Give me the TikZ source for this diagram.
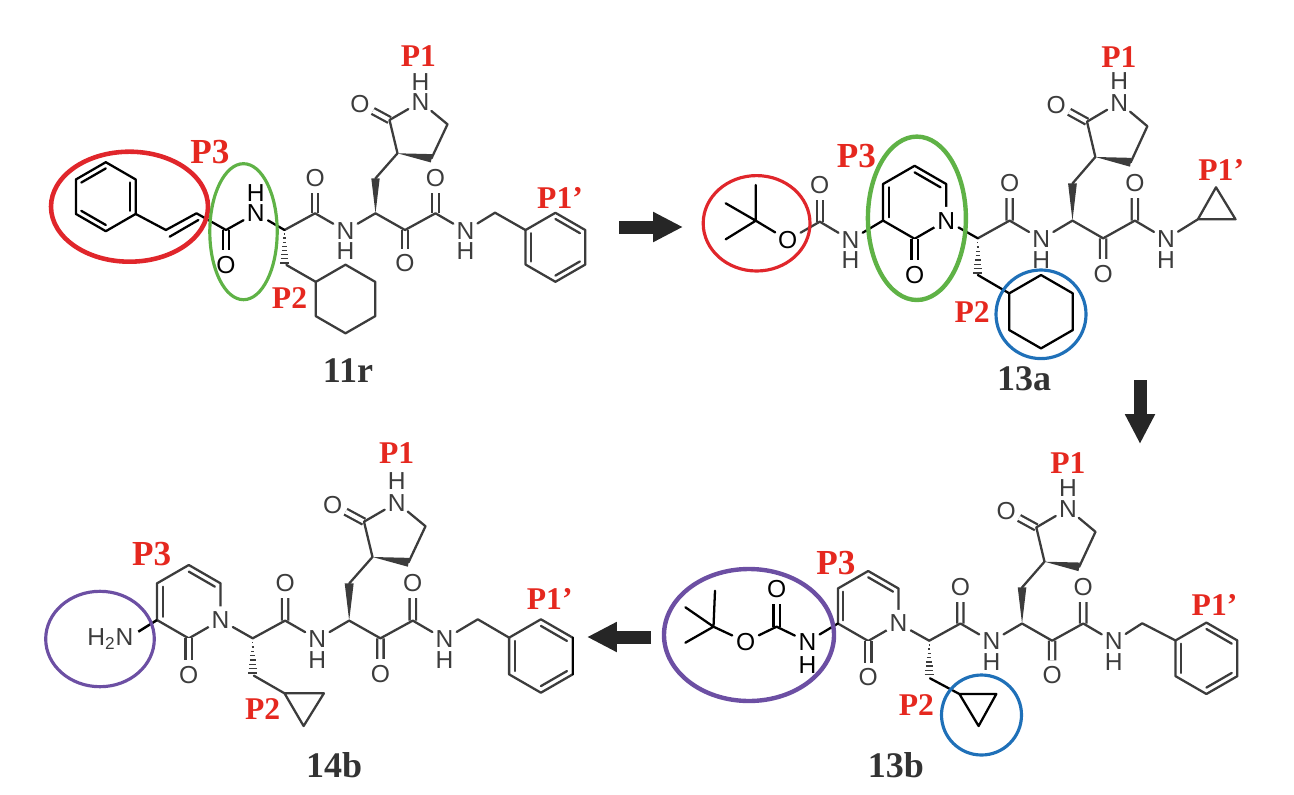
\documentclass[tikz,border=0pt]{standalone}
\usepackage{fontspec}
\setmainfont{Liberation Serif}
\newfontfamily\atomfont{Liberation Sans}
\usetikzlibrary{calc}
\usetikzlibrary{arrows.meta}

\definecolor{siteRed}{HTML}{E5281F}
\definecolor{ringRed}{HTML}{E0262B}
\definecolor{ringGreen}{HTML}{5FB246}
\definecolor{ringBlue}{HTML}{1F70B8}
\definecolor{ringPurple}{HTML}{6C4FA3}
\definecolor{bondGray}{HTML}{3C3C3C}

\tikzset{
    bond/.style={line width=1.3pt, line cap=round, line join=round, draw=bondGray},
    dbond/.style={bond, double=white, double distance=2.3pt, line cap=butt},
    atom/.style={circle, inner sep=0.6pt, font=\atomfont\fontsize{14}{14}\selectfont, text=bondGray},
    site/.style={inner sep=0pt, text=siteRed, font=\bfseries\fontsize{18}{18}\selectfont},
    sitebig/.style={inner sep=0pt, text=siteRed, font=\bfseries\fontsize{20}{20}\selectfont},
    cpd/.style={inner sep=0pt, text=black!80, font=\bfseries\fontsize{20.5}{20.5}\selectfont},
    hoopthin/.style={line width=1.8pt},
    hoopthick/.style={line width=2.5pt},
    bigarrow/.style={line width=7.4pt, draw=black!85, -{Triangle[length=17pt,width=16pt]}},
}

% ring with its corners (name0) ... (name5), (name0) on top
\newcommand{\hexring}[4]{
    \coordinate (#1c) at (#2);
    \foreach \k in {0,...,5} {
        \pgfmathsetmacro\ang{60*\k-90}
        \coordinate (#1\k) at ($(#1c)+(\ang:#3)$);
    }
    \draw[bond,#4] (#10) -- (#11) -- (#12) -- (#13) -- (#14) -- (#15) -- cycle;
}
\newcommand{\innerbond}[4]{
    \draw[bond,#4] ($(#1)!0.18!(#3)$) -- ($(#2)!0.18!(#3)$);
}
\newcommand{\wedgebond}[3]{
    \fill[#3] (#1) -- ($(#2)!2.4pt!90:(#1)$) -- ($(#2)!2.4pt!-90:(#1)$) -- cycle;
}

% the part all four molecules share, drawn from the chiral carbon (ca)
\newcommand{\peptidecore}{
    \coordinate (ca) at (0,0);
    \coordinate (c1) at (30.6,-16.7);
    \coordinate (cb) at (91,-16.7);
    \coordinate (cm) at (91,-51.7);
    \coordinate (c3) at (113,-76.7);
    \coordinate (c2) at (105,-110);
    \coordinate (c5) at (163,-105.7);
    \coordinate (c4) at (147,-71.7);
    \coordinate (ck) at (120.5,0);
    \coordinate (c6) at (151,-16.7);
    \node[atom] (o1) at (30.6,-51.7) {O};
    \node[atom] (n1) at (61,0.8) {N};
    \node[atom] (h1) at (61,20.8) {H};
    \node[atom] (o2) at (75.4,-126) {O};
    \node[atom] (nr) at (136,-128) {N};
    \node[atom] (hr) at (136,-148) {H};
    \node[atom] (o3) at (120.5,33.3) {O};
    \node[atom] (o4) at (151,-51.7) {O};
    \node[atom] (n2) at (181,0.8) {N};
    \node[atom] (h2) at (181,20.8) {H};
    % Carbonyls
    \draw[dbond] (c1) -- (o1);
    \draw[dbond] (c2) -- (o2);
    \draw[dbond] (ck) -- (o3);
    \draw[dbond] (c6) -- (o4);
    % Backbone and lactam
    \draw[bond] (ca) -- (c1) -- (n1);
    \draw[bond] (n1) -- (cb) -- (ck) -- (c6) -- (n2);
    \draw[bond] (cm) -- (c3) -- (c2) -- (nr) -- (c5) -- (c4);
    \wedgebond{cb}{cm}{bondGray}
    \wedgebond{c3}{c4}{bondGray}
    % Hashed bond
    \foreach \k in {1,...,8} {
        \draw[bondGray, line width=0.8pt] ($(ca)+(-0.55*\k,4.1*\k)$) -- ($(ca)+(0.55*\k,4.1*\k)$);
    }
}

\begin{document}
\begin{tikzpicture}[x=0.02cm, y=-0.02cm]
    \useasboundingbox (0,0) rectangle (1294,794);

    % Compound 11r
    \begin{scope}[shift={(284.5,230)}]
        \peptidecore
    \end{scope}
    \coordinate (cm2) at (286.4,265);
    \hexring{cy}{345.5,299}{34.3}{}
    \draw[bond] (cm2) -- (cy5);
    \coordinate (tail) at (495,212.7);
    \hexring{ph}{555.4,247.3}{34.5}{}
    \draw[bond] (n2) -- (tail) -- (ph5);
    \innerbond{ph0}{ph1}{phc}{}
    \innerbond{ph2}{ph3}{phc}{}
    \innerbond{ph4}{ph5}{phc}{}
    % Cinnamoyl part
    \hexring{pa}{105.8,196.7}{34.5}{black}
    \innerbond{pa5}{pa0}{pac}{black}
    \innerbond{pa1}{pa2}{pac}{black}
    \innerbond{pa3}{pa4}{pac}{black}
    \coordinate (v1) at (165.9,230);
    \coordinate (v2) at (196.5,213.3);
    \coordinate (am) at (226,230);
    \node[atom, text=black] (amo) at (226,265) {O};
    \node[atom, text=black] (amn) at (255.8,213.3) {N};
    \node[atom, text=black] (amh) at (255.8,193.3) {H};
    \draw[dbond, draw=black] (am) -- (amo);
    \draw[bond, black] (pa2) -- (v1) -- (v2) -- (am) -- (amn) -- (ca);
    \draw[bond, black] ($(v1)+(3.8,6.7)$) -- ($(v2)+(1.9,6.7)$);
    \draw[ringRed, line width=2.6pt] (129.5,206.7) ellipse (78.5 and 55);
    \draw[ringGreen, hoopthin] (243.5,231.7) ellipse (33.7 and 68);
    \node[site] (s1) at (418.4,56) {P1};
    \node[site] (s2) at (289.5,298) {P2};
    \node[sitebig] (s3) at (209.9,151.7) {P3};
    \node[site] (s4) at (560,198) {P1’};
    \node[cpd] (n11r) at (348,370.7) {11r};

    % Compound 13a
    \begin{scope}[shift={(977.8,238.3)}, xscale=1.04, yscale=1.06]
        \peptidecore
    \end{scope}
    \coordinate (cm2) at (977.8,275);
    \hexring{cy}{1041,311.7}{36.7}{black}
    \draw[bond, black] (cm2) -- (cy5);
    \coordinate (cp1) at (1197.9,219.3);
    \coordinate (cp2) at (1235.5,219.3);
    \coordinate (cp3) at (1216,187.3);
    \draw[bond] (n2) -- (cp1) -- (cp2) -- (cp3) -- (cp1);
    % Pyridone
    \hexring{py}{914.6,202.3}{36.5}{black}
    \innerbond{py0}{py1}{pyc}{black}
    \innerbond{py4}{py5}{pyc}{black}
    \node[atom, fill=white, text=black] (pyn) at (py2) {N};
    \node[atom, text=black] (pyo) at (914.6,275) {O};
    \draw[dbond, draw=black] (py3) -- (pyo);
    \draw[bond, black] (pyn) -- (ca);
    \node[atom] (nb) at (850.6,240) {N};
    \node[atom] (hb) at (850.6,260) {H};
    \coordinate (cc) at (819.8,221.7);
    \node[atom] (oc) at (819.8,185) {O};
    \node[atom, text=black] (oe) at (787.8,240) {O};
    \coordinate (tb) at (755.8,220.7);
    \coordinate (me1) at (755.8,185);
    \coordinate (me2) at (725.7,203.3);
    \coordinate (me3) at (725.7,239.3);
    \draw[dbond] (cc) -- (oc);
    \draw[bond] (oe) -- (cc) -- (nb);
    \draw[bond, black] (nb) -- (py4);
    \draw[bond, black] (oe) -- (tb) -- (me1) (tb) -- (me2) (tb) -- (me3);
    \draw[ringRed, hoopthin] (756.6,223.3) ellipse (53.4 and 47.7);
    \draw[ringGreen, hoopthick] (916.9,218.3) ellipse (49 and 81.7);
    \draw[ringBlue, hoopthin] (1041,314.3) ellipse (45 and 44.3);
    \node[site] (s1) at (1118.9,56.7) {P1};
    \node[site] (s2) at (972.2,311.7) {P2};
    \node[sitebig] (s3) at (856.3,156) {P3};
    \node[site] (s4) at (1221.2,170) {P1’};
    \node[cpd] (n13a) at (1024,378.3) {13a};

    % Compound 13b
    \begin{scope}[shift={(929.2,640.7)}, xscale=1.02, yscale=1.03]
        \peptidecore
    \end{scope}
    \coordinate (cm2) at (930,678.3);
    \coordinate (cp1) at (959.4,694);
    \coordinate (cp2) at (996.3,694);
    \coordinate (cp3) at (978.6,726);
    \draw[bond, black] (cm2) -- (cp1) -- (cp2) -- (cp3) -- (cp1);
    \coordinate (tail) at (1142.2,623.3);
    \hexring{ph}{1206.4,658.3}{35.7}{}
    \draw[bond] (n2) -- (tail) -- (ph5);
    \innerbond{ph0}{ph1}{phc}{}
    \innerbond{ph2}{ph3}{phc}{}
    \innerbond{ph4}{ph5}{phc}{}
    % Pyridone
    \hexring{py}{868.2,606}{35}{}
    \innerbond{py0}{py1}{pyc}{}
    \innerbond{py4}{py5}{pyc}{}
    \node[atom, fill=white] (pyn) at (py2) {N};
    \node[atom] (pyo) at (868.2,677.3) {O};
    \draw[dbond] (py3) -- (pyo);
    \draw[bond] (pyn) -- (ca);
    \node[atom, text=black] (nb) at (807.5,641.7) {N};
    \node[atom, text=black] (hb) at (807.5,665) {H};
    \coordinate (cc) at (776.6,626.7);
    \node[atom, text=black] (oc) at (776.6,589.3) {O};
    \node[atom, text=black] (oe) at (745.6,641.7) {O};
    \coordinate (tb) at (713.5,626.7);
    \coordinate (me1) at (715,590.7);
    \coordinate (me2) at (685.4,607.3);
    \coordinate (me3) at (685.4,642.7);
    \draw[dbond, draw=black] (cc) -- (oc);
    \draw[bond, black] (oe) -- (cc) -- (nb) -- (py4);
    \draw[bond, black] (oe) -- (tb) -- (me1) (tb) -- (me2) (tb) -- (me3);
    \draw[ringPurple, hoopthick] (749,635) ellipse (85 and 66);
    \draw[ringBlue, hoopthin] (981.5,715) ellipse (40 and 40);
    \node[site] (s1) at (1067.8,462.7) {P1};
    \node[site] (s2) at (916.4,705) {P2};
    \node[sitebig] (s3) at (836,562.7) {P3};
    \node[site] (s4) at (1214.5,605) {P1’};
    \node[cpd] (n13b) at (895.9,765) {13b};

    % Compound 14b
    \begin{scope}[shift={(252.7,638.3)}, xscale=1.06, yscale=1.06]
        \peptidecore
    \end{scope}
    \coordinate (cm2) at (253.9,675.7);
    \coordinate (cp1) at (284.5,693.3);
    \coordinate (cp2) at (323.9,693.3);
    \coordinate (cp3) at (303.6,726);
    \draw[bond] (cm2) -- (cp1) -- (cp2) -- (cp3) -- (cp1);
    \coordinate (tail) at (477.8,619.3);
    \hexring{ph}{540.9,656}{36.7}{}
    \draw[bond] (n2) -- (tail) -- (ph5);
    \draw[bond, black] (ph1) -- (ph2);
    \innerbond{ph0}{ph1}{phc}{}
    \innerbond{ph2}{ph3}{phc}{}
    \innerbond{ph4}{ph5}{phc}{}
    % Pyridone
    \hexring{py}{188.8,601.7}{36.7}{}
    \innerbond{py0}{py1}{pyc}{}
    \innerbond{py4}{py5}{pyc}{}
    \node[atom, fill=white] (pyn) at (py2) {N};
    \node[atom] (pyo) at (188.8,675) {O};
    \draw[dbond] (py3) -- (pyo);
    \draw[bond] (pyn) -- (ca);
    \node[atom, inner sep=0pt] (nh2) at (110.4,639.3) {H\textsubscript{2}N};
    \coordinate (nh2e) at (138.3,631.7);
    \draw[black, line width=1.4pt] (nh2e) -- (py4);
    \draw[ringPurple, hoopthin] (100,639) ellipse (54.3 and 47.7);
    \node[site] (s1) at (396.6,453.3) {P1};
    \node[site] (s2) at (262.7,709.3) {P2};
    \node[sitebig] (s3) at (151.7,554) {P3};
    \node[site] (s4) at (549.7,599.3) {P1’};
    \node[cpd] (n14b) at (334.2,765) {14b};

    % Arrows
    \coordinate (a1s) at (619,227);
    \coordinate (a1e) at (683,227);
    \coordinate (a2s) at (1140,380);
    \coordinate (a2e) at (1140,444);
    \coordinate (a3s) at (651,637);
    \coordinate (a3e) at (587,637);
    \draw[bigarrow] (a1s) -- (a1e);
    \draw[bigarrow] (a2s) -- (a2e);
    \draw[bigarrow] (a3s) -- (a3e);
\end{tikzpicture}
\end{document}
